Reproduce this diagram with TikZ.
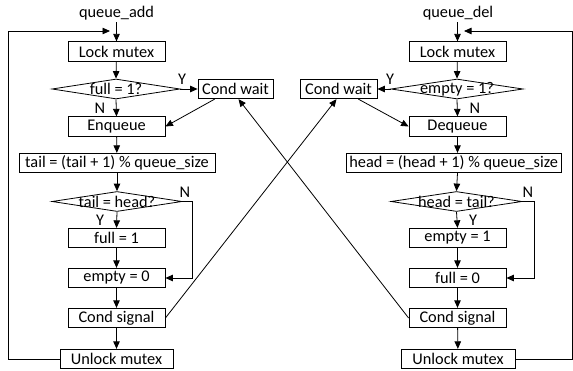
\documentclass[tikz,border=0pt]{standalone}
\usepackage{fontspec}
\setmainfont{Carlito}
\usetikzlibrary{arrows.meta,shapes.geometric,calc}
\begin{document}
\begin{tikzpicture}[x=1pt,y=-1pt,
  font=\fontsize{16.3}{18}\selectfont,
  box/.style={draw, line width=0.8pt, minimum height=19.5pt, inner sep=0pt, minimum width=97pt},
  dia/.style={draw, diamond, line width=0.8pt, inner sep=0pt, minimum height=20pt, minimum width=#1},
  arr/.style={-{Triangle[length=7.5pt,width=6.5pt]}, line width=0.8pt},
  lab/.style={inner sep=0pt}
]
\useasboundingbox (0,0) rectangle (573,370);
% ---------- left column ----------
\node[lab] (qa) at (116.5,13) {queue\_add};
\node[box] (L1) at (116.5,51.5) {Lock mutex};
\node[dia=128pt, label=center:{full = 1?}] (D1) at (116,89) {};
\node[box, minimum width=75pt] (CW1) at (235.5,89) {Cond wait};
\node[box] (E1) at (116.5,126.5) {Enqueue};
\node[box, minimum width=196pt] (T1) at (117,163) {tail = (tail + 1) \% queue\_size};
\node[dia=130pt, label=center:{tail = head?}] (D2) at (117,201.5) {};
\node[box] (F1) at (116.5,238) {full = 1};
\node[box] (M1) at (116.5,278) {empty = 0};
\node[box] (S1) at (116.5,318) {Cond signal};
\node[box, minimum width=113pt] (U1) at (116.5,359) {Unlock mutex};
% ---------- right column ----------
\node[lab] (qd) at (458,13) {queue\_del};
\node[box] (L2) at (457.5,51.5) {Lock mutex};
\node[dia=132pt, label=center:{empty = 1?}] (D3) at (457,89) {};
\node[box, minimum width=77pt] (CW2) at (338.5,89) {Cond wait};
\node[box] (E2) at (457.5,126.5) {Dequeue};
\node[box, minimum width=215pt] (T2) at (453.7,163) {head = (head + 1) \% queue\_size};
\node[dia=131pt, label=center:{head = tail?}] (D4) at (456.5,201.5) {};
\node[box] (F2) at (457.5,238) {empty = 1};
\node[box] (M2) at (457.5,278) {full = 0};
\node[box] (S2) at (457.5,318) {Cond signal};
\node[box, minimum width=114pt] (U2) at (458,359) {Unlock mutex};
% ---------- coordinates ----------
\coordinate (qaE) at (116.5,22);
\coordinate (qdE) at (457.5,22);
\coordinate (lb) at (8,359);
\coordinate (lt) at (8,31);
\coordinate (la) at (110,31);
\coordinate (rb) at (572,359);
\coordinate (rt) at (572,31);
\coordinate (ra) at (464,31);
\coordinate (n1) at (192,201.5);
\coordinate (n1b) at (192,278);
\coordinate (n2) at (534,201.5);
\coordinate (n2b) at (534,278);
% ---------- left arrows ----------
\draw[arr] (qaE) -- (L1.north);
\draw[arr] (U1.west) -- (lb) -- (lt) -- (la);
\draw[arr] (L1) -- (D1.north);
\draw[arr] (D1.south) -- (E1.north);
\draw[arr] (D1.east) -- (CW1.west);
\draw[arr] ($(CW1.south west)+(17,0)$) -- (E1.east);
\draw[arr] (E1) -- (T1);
\draw[arr] (T1) -- (D2.north);
\draw[arr] (D2.south) -- (F1.north);
\draw[arr] (D2.east) -- (n1) -- (n1b) -- (M1.east);
\draw[arr] (F1) -- (M1);
\draw[arr] (M1) -- (S1);
\draw[arr] (S1) -- (U1);
\node[lab] at (182,79) {Y};
\node[lab] at (100,108) {N};
\node[lab] at (185,192) {N};
\node[lab] at (100,220) {Y};
% ---------- right arrows ----------
\draw[arr] (qdE) -- (L2.north);
\draw[arr] (U2.east) -- (rb) -- (rt) -- (ra);
\draw[arr] (L2) -- (D3.north);
\draw[arr] (D3.south) -- (E2.north);
\draw[arr] (D3.west) -- (CW2.east);
\draw[arr] ($(CW2.south east)+(-19,0)$) -- (E2.west);
\draw[arr] (E2) -- (T2.north -| E2);
\draw[arr] (T2.south -| E2) -- (D4.north);
\draw[arr] (D4.south) -- (F2.north);
\draw[arr] (D4.east) -- (n2) -- (n2b) -- (M2.east);
\draw[arr] (F2) -- (M2);
\draw[arr] (M2) -- (S2);
\draw[arr] (S2) -- (U2);
\node[lab] at (390,79) {Y};
\node[lab] at (475,108) {N};
\node[lab] at (528,192) {N};
\node[lab] at (473,220) {Y};
% ---------- crossing arrows ----------
\draw[arr] (S1.east) -- ($(CW2.south)+(-2,0)$);
\draw[arr] (S2.west) -- ($(CW1.south)+(3,0)$);
\end{tikzpicture}
\end{document}
